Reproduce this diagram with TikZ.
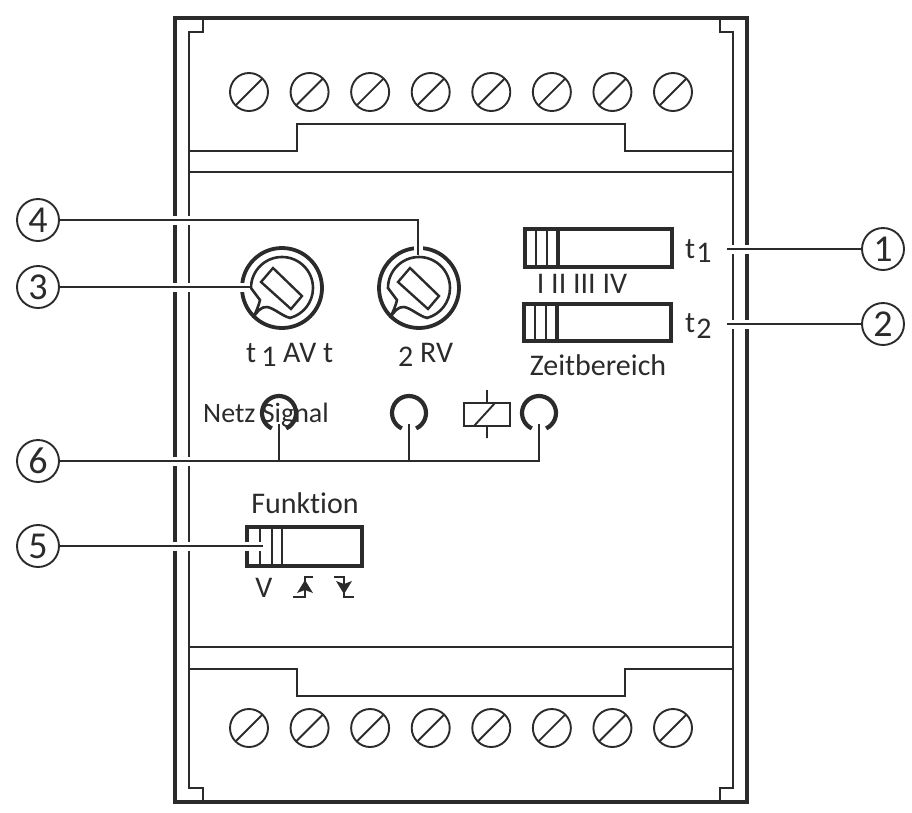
\documentclass[tikz,border=0pt]{standalone}
\usepackage{fontspec}
\setmainfont[Ligatures=NoCommon]{Carlito}
\usetikzlibrary{calc}
\definecolor{ink}{HTML}{2B2B2B}
\tikzset{
  thin line/.style={line width=1.9pt,draw=ink},
  frame line/.style={line width=4.6pt,draw=ink,line join=miter},
  leader/.style={line width=1.9pt,draw=ink,preaction={draw=white,line width=9pt}},
  call/.style={circle,draw=ink,line width=1.9pt,fill=white,minimum size=42pt,inner sep=0pt,font=\fontsize{38}{38}\selectfont,text=ink},
  txt/.style={font=\fontsize{30}{32}\selectfont,text=ink,inner sep=0pt},
}
\newcommand{\scr}[1]{\foreach \i in {0,...,7} {\begin{scope}[shift={({249+\i*60.57},#1)}]
  \draw[thin line] (0,0) circle[radius=19pt]; \draw[thin line] (-13.4,13.4) -- (13.4,-13.4); \end{scope}}}
\newcommand{\kn}{\draw[line width=3.8pt,draw=ink] (0,0) circle[radius=40pt];
  \draw[line width=2.6pt,draw=ink] (-31,0) arc[start angle=180,end angle=-75,radius=31pt] .. controls (0,28) and (-8,20) .. (-15,19)
    .. controls (-21,18) and (-26,25) .. (-29,30) .. controls (-26,24) and (-23,17) .. (-22,12) -- cycle;
  \draw[line width=2.4pt,draw=ink] (-9,-20) -- (20,8) -- (9,21) -- (-21,-6) -- cycle;}
\newcommand{\sld}[6]{\draw[line width=4.4pt,draw=ink] (0,0) rectangle (#1,#2);
  \foreach \t in {#3,#4} {\draw[line width=2.5pt,draw=ink] (\t,0) -- (\t,#2);} \draw[line width=#6pt,draw=ink] (#5,0) -- (#5,#2);}
\newcommand{\ld}[1]{\draw[line width=4.2pt,draw=ink] (#1,413) ++(-65:17pt) arc[start angle=-65,end angle=245,radius=17pt];}
\begin{document}
\begin{tikzpicture}[x=1pt,y=-1pt]
  \useasboundingbox (0,0) rectangle (912,812);
  \draw[frame line] (175,18) rectangle (747,802); % housing
  \draw[thin line] (203,18) -- (203,32) -- (189,32) -- (189,788) -- (203,788) -- (203,802);
  \draw[thin line] (720,18) -- (720,32) -- (733,32) -- (733,788) -- (720,788) -- (720,802);
  \draw[thin line] (189,151) -- (297,151) -- (297,124) -- (625,124) -- (625,151) -- (733,151);
  \draw[thin line] (189,669) -- (297,669) -- (297,696) -- (625,696) -- (625,669) -- (733,669);
  \draw[thin line] (189,172) -- (733,172);
  \draw[thin line] (189,647) -- (733,647);
  \scr{92} \scr{728}
  \begin{scope}[shift={(282,288)}] \kn \end{scope} % t1
  \begin{scope}[shift={(419,288)}] \kn \end{scope} % t2
  \begin{scope}[shift={(525,229)}] \sld{147}{38}{11}{22}{33}{3.2} \end{scope} % Zeit 1
  \begin{scope}[shift={(524,304)}] \sld{147}{37}{11}{22}{33}{3.2} \end{scope} % Zeit 2
  \begin{scope}[shift={(247,527)}] \sld{115}{39}{13}{25}{35}{2.5} \end{scope} % Funktion
  \ld{279} \ld{409} \ld{539}
  % relay
  \draw[thin line] (464,403) rectangle (510,426);
  \draw[thin line] (487,390) -- (487,403) (487,426) -- (487,438) (474,426) -- (495,403);
  % edge symbols
  \draw[thin line] (293,597) -- (305,597) -- (305,577) -- (313,577);
  \fill[ink] (305,580) -- (313,593) -- (305,590) -- (297,593) -- cycle;
  \draw[thin line] (334,577) -- (344,577) -- (344,597) -- (354,597);
  \fill[ink] (344,594) -- (336,581) -- (344,584) -- (352,581) -- cycle;
  % callouts
  \node[call] (c1) at (883,249) {1};
  \node[call] (c2) at (883,324) {2};
  \node[call] (c3) at (38,287) {3};
  \node[call] (c4) at (38,220) {4};
  \node[call] (c5) at (38,546) {5};
  \node[call] (c6) at (38,461) {6};
  \coordinate (e1) at (727,249);
  \coordinate (e2) at (727,324);
  \coordinate (e3) at (250,287);
  \coordinate (e4) at (418,255);
  \coordinate (e5) at (263,546);
  \coordinate (l1) at (279,424);
  \coordinate (l2) at (409,424);
  \coordinate (l3) at (539,424);
  \draw[leader] (c1) -- (e1);
  \draw[leader] (c2) -- (e2);
  \draw[leader] (c3) -- (e3);
  \draw[leader] (c4) -| (e4);
  \draw[leader] (c5) -- (e5);
  \draw[leader] (c6) -| (l3) (l1) -- (l1 |- c6) (l2) -- (l2 |- c6);
  % labels
  \node[txt,anchor=base west] (t1a) at (246,362) {t\,\raisebox{-4pt}{1} AV t};
  \node[txt,anchor=base west] (t2a) at (398,362) {\raisebox{-4pt}{2} RV};
  \node[txt,anchor=base west] (t1b) at (685,258) {t\kern1pt\raisebox{-4pt}{1}};
  \node[txt,anchor=base west] (t2b) at (685,332) {t\kern1pt\raisebox{-6pt}{2}};
  \node[txt] (rng) at (582,284) {I II III IV};
  \node[txt] (zeit) at (598,365) {Zeitbereich};
  \node[txt,font=\fontsize{28}{30}\selectfont] (netz) at (266,415) {Netz Signal};
  \node[txt] (fkt) at (305,503) {Funktion};
  \node[txt] (vv) at (264,588) {V};
\end{tikzpicture}
\end{document}
